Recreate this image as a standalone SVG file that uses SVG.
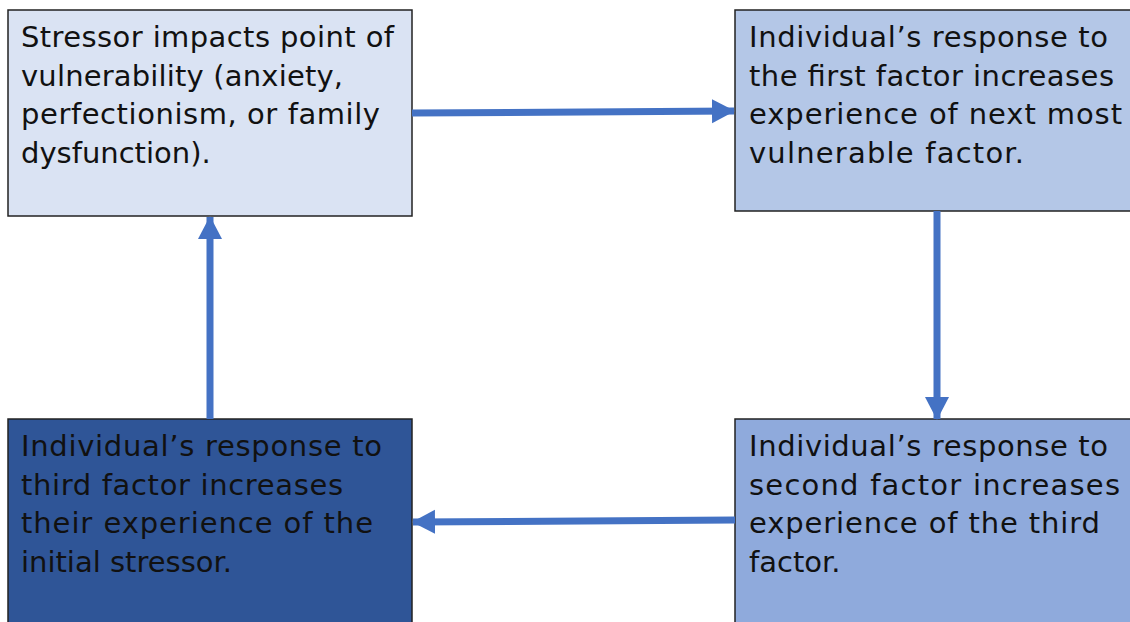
<svg xmlns="http://www.w3.org/2000/svg" width="1130" height="622" viewBox="0 0 1130 622">
<style>
.box{stroke:#222;stroke-width:1.5}
.t{font-family:"DejaVu Sans","Liberation Sans",Arial,sans-serif;font-size:29px;fill:#111}
.c{stroke:#4472C4;stroke-width:7;fill:none}
</style>
<defs>
<marker id="ah" markerUnits="userSpaceOnUse" markerWidth="26" markerHeight="26" refX="22" refY="12" orient="auto">
<path d="M0,0 L23,12 L0,24 Z" fill="#4472C4"/>
</marker>
</defs>
<rect width="1130" height="622" fill="#fff"/>
<g id="node1">
<rect class="box" x="8" y="10" width="404" height="206" fill="#DAE3F3"/>
<text class="t" x="21" y="47" textLength="373" lengthAdjust="spacing">Stressor impacts point of</text>
<text class="t" x="21" y="86" textLength="322" lengthAdjust="spacing">vulnerability (anxiety,</text>
<text class="t" x="21" y="124" textLength="359" lengthAdjust="spacing">perfectionism, or family</text>
<text class="t" x="21" y="163">dysfunction).</text>
</g>
<g id="node2">
<rect class="box" x="735" y="10" width="400" height="201" fill="#B4C7E7"/>
<text class="t" x="749" y="47" textLength="359" lengthAdjust="spacing">Individual’s response to</text>
<text class="t" x="749" y="86" textLength="365" lengthAdjust="spacing">the first factor increases</text>
<text class="t" x="749" y="124" textLength="373" lengthAdjust="spacing">experience of next most</text>
<text class="t" x="749" y="163" textLength="275" lengthAdjust="spacing">vulnerable factor.</text>
</g>
<g id="node3">
<rect class="box" x="8" y="419" width="404" height="210" fill="#2F5597"/>
<text class="t" x="21" y="456" textLength="361" lengthAdjust="spacing">Individual’s response to</text>
<text class="t" x="21" y="495" textLength="322" lengthAdjust="spacing">third factor increases</text>
<text class="t" x="21" y="533" textLength="352" lengthAdjust="spacing">their experience of the</text>
<text class="t" x="21" y="572">initial stressor.</text>
</g>
<g id="node4">
<rect class="box" x="735" y="419" width="400" height="210" fill="#8FAADC"/>
<text class="t" x="749" y="456" textLength="359" lengthAdjust="spacing">Individual’s response to</text>
<text class="t" x="749" y="495" textLength="371" lengthAdjust="spacing">second factor increases</text>
<text class="t" x="749" y="533" textLength="351" lengthAdjust="spacing">experience of the third</text>
<text class="t" x="749" y="572">factor.</text>
</g>
<g id="connectors">
<path class="c" d="M412,113 L734,111" marker-end="url(#ah)"/>
<path class="c" d="M937,211 L937,419" marker-end="url(#ah)"/>
<path class="c" d="M735,520 L413,522" marker-end="url(#ah)"/>
<path class="c" d="M210,419 L210,217" marker-end="url(#ah)"/>
</g>
</svg>
